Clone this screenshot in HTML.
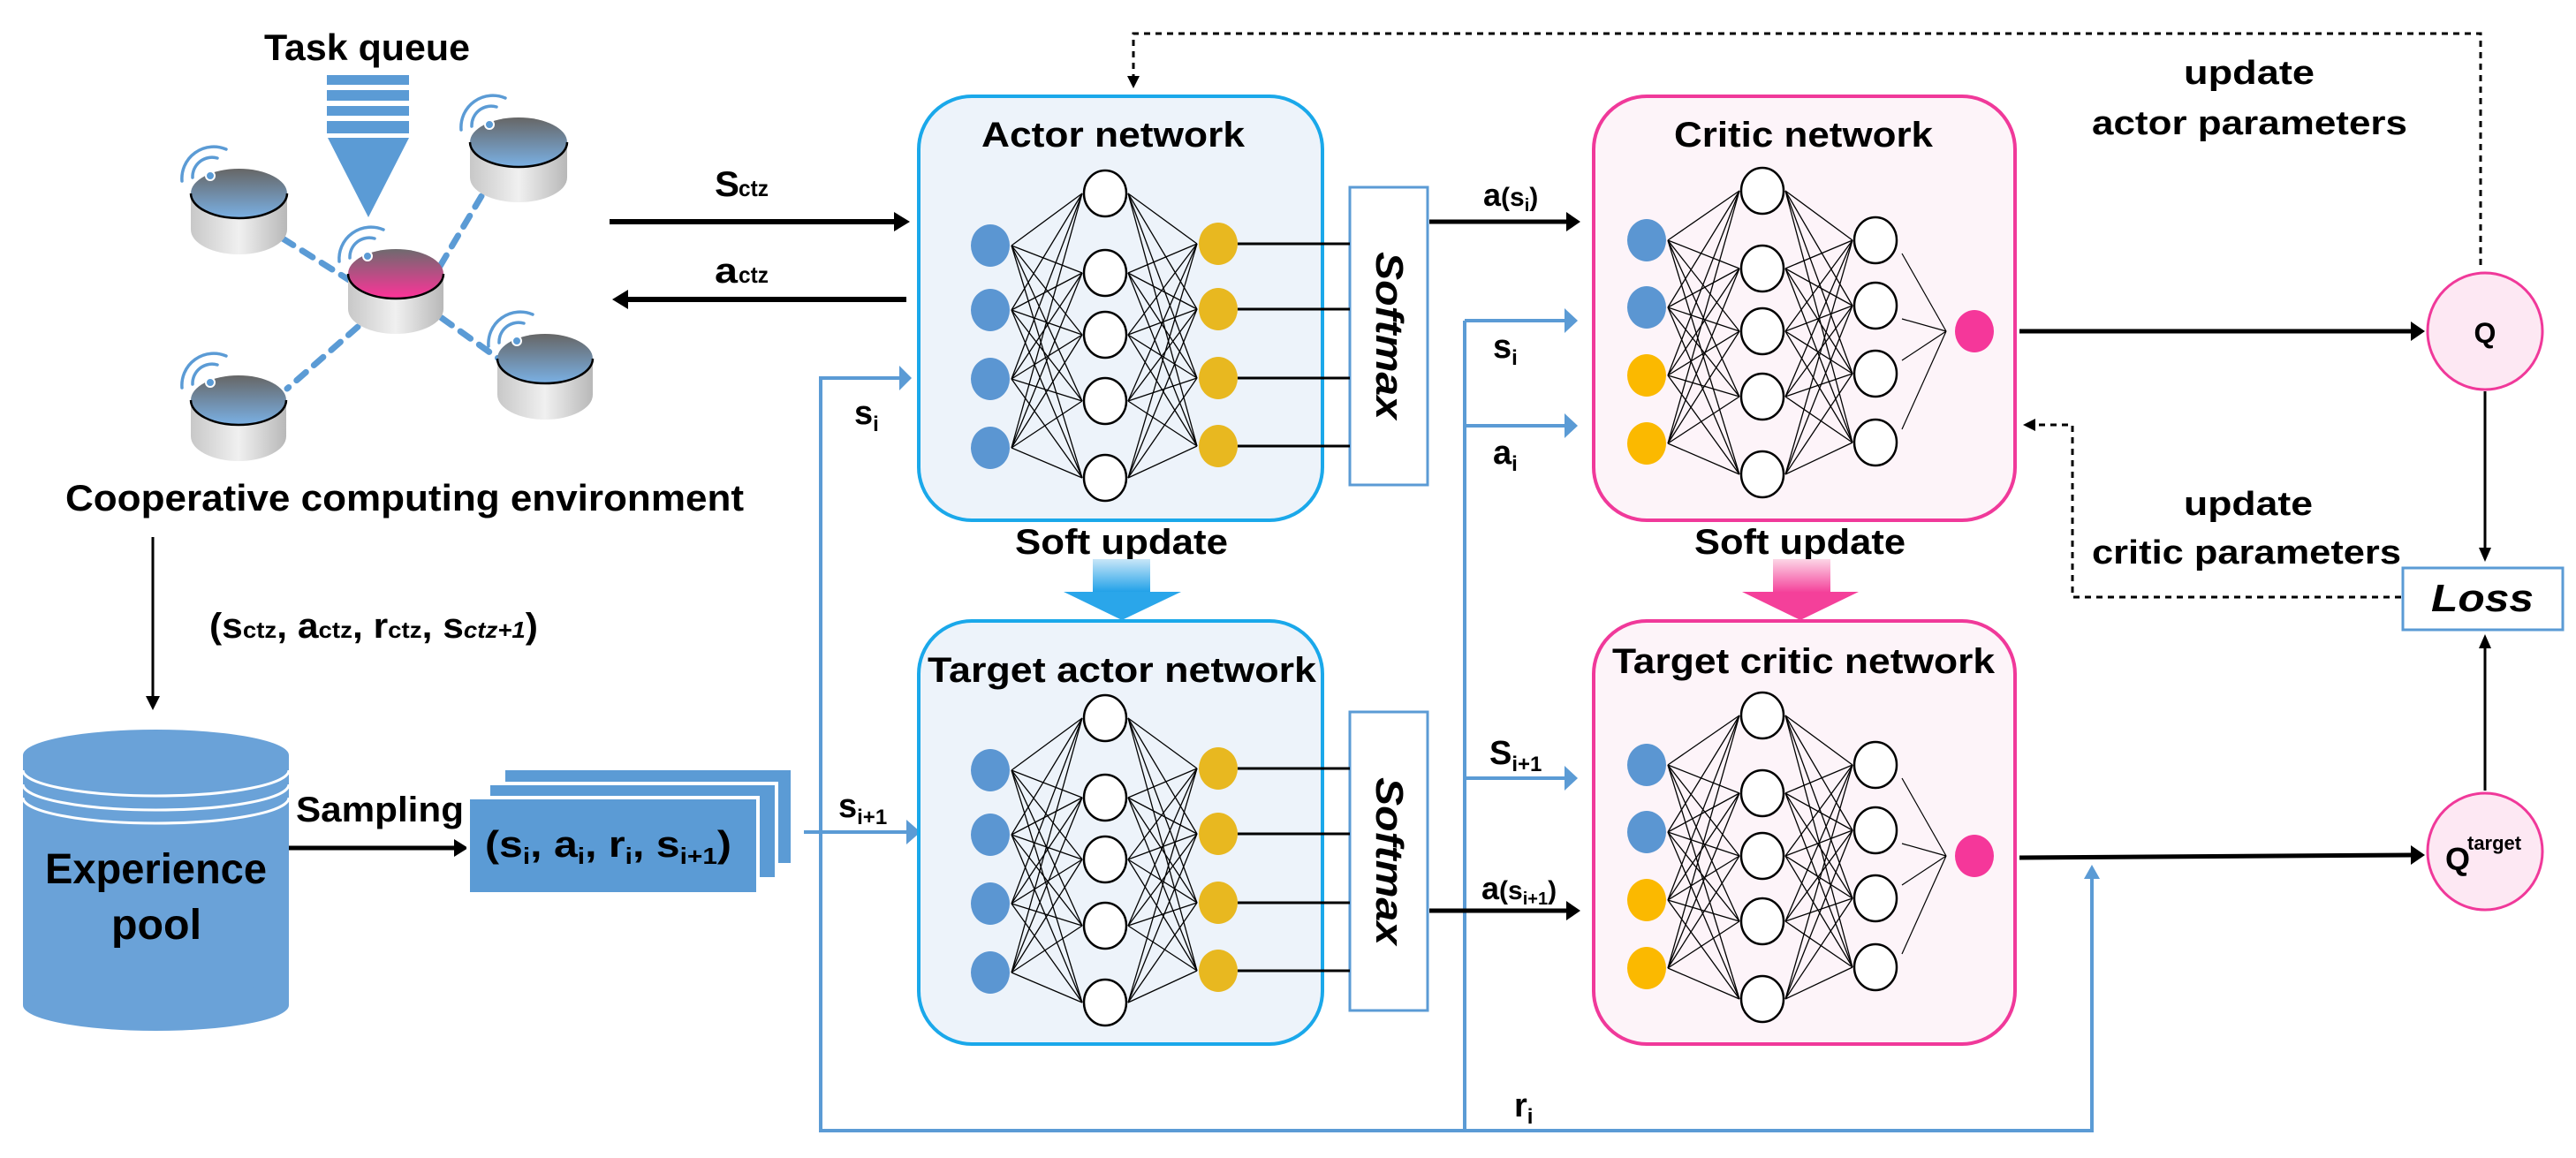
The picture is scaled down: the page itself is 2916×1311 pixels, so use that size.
<!DOCTYPE html>
<html><head><meta charset="utf-8"><style>
html,body{margin:0;padding:0;background:#fff;}
svg{display:block;}
text{font-family:"Liberation Sans",sans-serif;font-weight:bold;fill:#000;}
</style></head><body>
<svg id="s" width="2916" height="1311" viewBox="0 0 2916 1311" xmlns="http://www.w3.org/2000/svg">
<defs>
<linearGradient id="body" x1="0" x2="1" y1="0" y2="0"><stop offset="0" stop-color="#c8c8c8"/><stop offset="0.5" stop-color="#f0f0f0"/><stop offset="1" stop-color="#b8b8b8"/></linearGradient>
<linearGradient id="topb" x1="0" x2="0" y1="0" y2="1"><stop offset="0" stop-color="#666"/><stop offset="1" stop-color="#7ab0e4"/></linearGradient>
<linearGradient id="topp" x1="0" x2="0" y1="0" y2="1"><stop offset="0" stop-color="#6e6a6e"/><stop offset="1" stop-color="#ff3399"/></linearGradient>
<linearGradient id="sb" x1="0" x2="0" y1="0" y2="1"><stop offset="0" stop-color="#c8e6f8"/><stop offset="1" stop-color="#1ea0e8"/></linearGradient>
<linearGradient id="sp" x1="0" x2="0" y1="0" y2="1"><stop offset="0" stop-color="#fcd6e6"/><stop offset="1" stop-color="#f4409a"/></linearGradient>
</defs>

<!-- Task queue -->
<text x="299" y="68" font-size="42" textLength="233" lengthAdjust="spacingAndGlyphs">Task queue</text>
<rect x="370" y="85" width="93" height="11" fill="#5b9bd5"/>
<rect x="370" y="102" width="93" height="12" fill="#5b9bd5"/>
<rect x="370" y="120" width="93" height="11" fill="#5b9bd5"/>
<rect x="370" y="137" width="93" height="14" fill="#5b9bd5"/>
<polygon points="371,156 463,156 417,246" fill="#5b9bd5"/>

<!-- dashed links -->
<g stroke="#5b9bd5" stroke-width="7" stroke-dasharray="14,12" stroke-linecap="round" fill="none">
<line x1="320" y1="270" x2="400" y2="320"/>
<line x1="545" y1="222" x2="490" y2="315"/>
<line x1="500" y1="360" x2="570" y2="410"/>
<line x1="405" y1="370" x2="325" y2="440"/>
</g>
<g id="cyls"></g>

<text x="74" y="578" font-size="42" textLength="768" lengthAdjust="spacingAndGlyphs">Cooperative computing environment</text>

<!-- s_ctz / a_ctz arrows -->
<line x1="690" y1="251" x2="1015" y2="251" stroke="#000" stroke-width="6"/>
<polygon points="1030,251 1012,240 1012,262" fill="#000"/>
<text x="809" y="222" font-size="40" textLength="28" lengthAdjust="spacingAndGlyphs">S</text>
<text x="836" y="222" font-size="26" textLength="34" lengthAdjust="spacingAndGlyphs">ctz</text>
<line x1="1026" y1="339" x2="708" y2="339" stroke="#000" stroke-width="6"/>
<polygon points="693,339 711,328 711,350" fill="#000"/>
<text x="809" y="320" font-size="40" textLength="26" lengthAdjust="spacingAndGlyphs">a</text>
<text x="836" y="320" font-size="26" textLength="34" lengthAdjust="spacingAndGlyphs">ctz</text>

<!-- down arrow to experience pool -->
<line x1="173" y1="608" x2="173" y2="790" stroke="#000" stroke-width="3"/>
<polygon points="173,804 165,788 181,788" fill="#000"/>
<text x="237" y="722" font-size="40" textLength="372" lengthAdjust="spacingAndGlyphs">(s<tspan font-size="26">ctz</tspan>, a<tspan font-size="26">ctz</tspan>, r<tspan font-size="26">ctz</tspan>, s<tspan font-size="26" font-style="italic">ctz+1</tspan>)</text>

<!-- experience pool -->
<rect x="26" y="855" width="301" height="283" fill="#6aa2d8"/>
<ellipse cx="176.5" cy="1138" rx="150.5" ry="29" fill="#6aa2d8"/>
<ellipse cx="176.5" cy="855" rx="150.5" ry="29" fill="#6aa2d8"/>
<path d="M26,872 A150.5,29 0 0 0 327,872" stroke="#fff" stroke-width="3" fill="none"/>
<path d="M26,888 A150.5,29 0 0 0 327,888" stroke="#fff" stroke-width="3" fill="none"/>
<path d="M26,903 A150.5,29 0 0 0 327,903" stroke="#fff" stroke-width="3" fill="none"/>
<text x="51" y="1000" font-size="48" textLength="251" lengthAdjust="spacingAndGlyphs">Experience</text>
<text x="126" y="1063" font-size="48" textLength="102" lengthAdjust="spacingAndGlyphs">pool</text>

<!-- sampling -->
<text x="335" y="930" font-size="40" textLength="190" lengthAdjust="spacingAndGlyphs">Sampling</text>
<line x1="327" y1="960" x2="516" y2="960" stroke="#000" stroke-width="5"/>
<polygon points="530,960 514,950 514,970" fill="#000"/>
<rect x="572" y="872" width="323" height="105" fill="#5b9bd5"/>
<rect x="553" y="887" width="326" height="108" fill="#5b9bd5" stroke="#fff" stroke-width="4"/>
<rect x="530" y="903" width="328" height="109" fill="#5b9bd5" stroke="#fff" stroke-width="4"/>
<text x="549" y="970" font-size="42" textLength="279" lengthAdjust="spacingAndGlyphs">(s<tspan font-size="26" dy="8">i</tspan><tspan dy="-8">, a</tspan><tspan font-size="26" dy="8">i</tspan><tspan dy="-8">, r</tspan><tspan font-size="26" dy="8">i</tspan><tspan dy="-8">, s</tspan><tspan font-size="26" dy="8">i+1</tspan><tspan dy="-8">)</tspan></text>

<!-- blue lines -->
<g stroke="#5b9bd5" stroke-width="4" fill="none">
<polyline points="1020,428 929,428 929,1280 2368,1280 2368,995"/>
<line x1="910" y1="942" x2="1028" y2="942"/>
<line x1="1658" y1="363" x2="1658" y2="1280"/>
<line x1="1658" y1="363" x2="1772" y2="363"/>
<line x1="1658" y1="482" x2="1772" y2="482"/>
<line x1="1658" y1="881" x2="1772" y2="881"/>
</g>
<g fill="#5b9bd5">
<polygon points="1032,428 1018,414 1018,442"/>
<polygon points="1042,942 1026,928 1026,956"/>
<polygon points="1786,363 1771,349 1771,377"/>
<polygon points="1786,482 1771,468 1771,496"/>
<polygon points="1786,881 1771,867 1771,895"/>
<polygon points="2368,979 2359,995 2377,995"/>
</g>
<text x="967" y="480" font-size="38">s<tspan font-size="24" dy="8">i</tspan></text>
<text x="949" y="925" font-size="38">s<tspan font-size="24" dy="8">i+1</tspan></text>
<text x="1690" y="405" font-size="38">s<tspan font-size="24" dy="8">i</tspan></text>
<text x="1690" y="525" font-size="38">a<tspan font-size="24" dy="8">i</tspan></text>
<text x="1686" y="865" font-size="38">S<tspan font-size="24" dy="8">i+1</tspan></text>
<text x="1714" y="1264" font-size="38">r<tspan font-size="24" dy="8">i</tspan></text>

<!-- boxes -->
<rect x="1040" y="109" width="457" height="480" rx="60" fill="#edf3fa" stroke="#1aa8ea" stroke-width="4"/>
<rect x="1040" y="703" width="457" height="479" rx="60" fill="#edf3fa" stroke="#1aa8ea" stroke-width="4"/>
<rect x="1804" y="109" width="477" height="480" rx="60" fill="#fdf4f9" stroke="#f0399a" stroke-width="4"/>
<rect x="1804" y="703" width="477" height="479" rx="60" fill="#fdf4f9" stroke="#f0399a" stroke-width="4"/>
<text x="1111" y="166" font-size="40" textLength="298" lengthAdjust="spacingAndGlyphs">Actor network</text>
<text x="1050" y="772" font-size="40" textLength="440" lengthAdjust="spacingAndGlyphs">Target actor network</text>
<text x="1895" y="166" font-size="40" textLength="293" lengthAdjust="spacingAndGlyphs">Critic network</text>
<text x="1825" y="762" font-size="40" textLength="433" lengthAdjust="spacingAndGlyphs">Target critic network</text>
<text x="1149" y="627" font-size="40" textLength="241" lengthAdjust="spacingAndGlyphs">Soft update</text>
<text x="1918" y="627" font-size="40" textLength="239" lengthAdjust="spacingAndGlyphs">Soft update</text>
<!-- soft update arrows -->
<rect x="1237" y="633" width="65" height="38" fill="url(#sb)"/>
<polygon points="1204,670 1337,670 1270,702" fill="#2aa6ea"/>
<rect x="2007" y="633" width="65" height="38" fill="url(#sp)"/>
<polygon points="1972,670 2104,670 2038,702" fill="#f4409a"/>

<!-- softmax -->
<rect x="1528" y="212" width="88" height="337" fill="#fff" stroke="#5b9bd5" stroke-width="3"/>
<rect x="1528" y="806" width="88" height="338" fill="#fff" stroke="#5b9bd5" stroke-width="3"/>
<text transform="translate(1558,380) rotate(90)" x="0" y="0" font-size="44" font-style="italic" text-anchor="middle" textLength="190" lengthAdjust="spacingAndGlyphs">Softmax</text>
<text transform="translate(1558,975) rotate(90)" x="0" y="0" font-size="44" font-style="italic" text-anchor="middle" textLength="190" lengthAdjust="spacingAndGlyphs">Softmax</text>

<g id="nets"></g>

<!-- a(s_i) arrows -->
<line x1="1618" y1="251" x2="1774" y2="251" stroke="#000" stroke-width="5"/>
<polygon points="1789,251 1773,240 1773,262" fill="#000"/>
<text x="1679" y="233" font-size="36">a<tspan font-size="30">(s</tspan><tspan font-size="20" dy="6">i</tspan><tspan font-size="30" dy="-6">)</tspan></text>
<line x1="1618" y1="1031" x2="1774" y2="1031" stroke="#000" stroke-width="5"/>
<polygon points="1789,1031 1773,1020 1773,1042" fill="#000"/>
<text x="1677" y="1018" font-size="36">a<tspan font-size="30">(s</tspan><tspan font-size="20" dy="6">i+1</tspan><tspan font-size="30" dy="-6">)</tspan></text>

<!-- critic -> Q -->
<line x1="2286" y1="375" x2="2730" y2="375" stroke="#000" stroke-width="5"/>
<polygon points="2745,375 2729,364 2729,386" fill="#000"/>
<line x1="2286" y1="971" x2="2730" y2="968" stroke="#000" stroke-width="5"/>
<polygon points="2745,968 2729,957 2729,979" fill="#000"/>
<ellipse cx="2813" cy="375" rx="65" ry="66" fill="#fde8f3" stroke="#f0399a" stroke-width="3"/>
<ellipse cx="2813" cy="964" rx="65" ry="66" fill="#fde8f3" stroke="#f0399a" stroke-width="3"/>
<text x="2813" y="388" font-size="32" text-anchor="middle">Q</text>
<text x="2768" y="985" font-size="36">Q</text><text x="2793" y="962" font-size="22" font-weight="normal">target</text>
<line x1="2813" y1="443" x2="2813" y2="622" stroke="#000" stroke-width="3"/>
<polygon points="2813,636 2806,620 2820,620" fill="#000"/>
<line x1="2813" y1="895" x2="2813" y2="732" stroke="#000" stroke-width="3"/>
<polygon points="2813,718 2806,734 2820,734" fill="#000"/>
<rect x="2720" y="643" width="181" height="70" fill="#fff" stroke="#5b9bd5" stroke-width="3"/>
<text x="2810" y="692" font-size="44" font-style="italic" font-weight="normal" text-anchor="middle" textLength="116" lengthAdjust="spacingAndGlyphs">Loss</text>

<!-- dashed update lines -->
<g stroke="#000" stroke-width="3" fill="none" stroke-dasharray="7,6">
<polyline points="2808,300 2808,38 1283,38 1283,88"/>
<polyline points="2718,676 2346,676 2346,481 2302,481"/>
</g>
<polygon points="1283,100 1276,86 1290,86" fill="#000"/>
<polygon points="2290,481 2304,474 2304,488" fill="#000"/>
<text x="2472" y="95" font-size="38" textLength="148" lengthAdjust="spacingAndGlyphs">update</text>
<text x="2368" y="152" font-size="38" textLength="357" lengthAdjust="spacingAndGlyphs">actor parameters</text>
<text x="2472" y="583" font-size="38" textLength="146" lengthAdjust="spacingAndGlyphs">update</text>
<text x="2368" y="638" font-size="38" textLength="350" lengthAdjust="spacingAndGlyphs">critic parameters</text>
</svg>
<script>
(function(){
var NS="http://www.w3.org/2000/svg";
function el(p,t,a){var e=document.createElementNS(NS,t);for(var k in a)e.setAttribute(k,a[k]);p.appendChild(e);return e;}
var nets=document.getElementById("nets");
function layer(x,ys,r,fill,stroke){return ys.map(function(y){return {x:x,y:y,r:r,fill:fill,stroke:stroke};});}
function draw(layers){
  for(var i=0;i<layers.length-1;i++){
    var L=layers[i],R=layers[i+1];
    L.forEach(function(a){R.forEach(function(b){
      el(nets,"line",{x1:a.x+a.r+2,y1:a.y,x2:b.x-b.r-2,y2:b.y,stroke:"#000","stroke-width":1.3});
    });});
  }
  layers.forEach(function(L){L.forEach(function(n){
    var o={cx:n.x,cy:n.y,rx:n.r,ry:n.r+2,fill:n.fill};
    if(n.stroke){o.stroke=n.stroke;o["stroke-width"]=2.5;}
    el(nets,"ellipse",o);
  });});
}
var B="#5b96d2",Y="#e8b820",O="#fbb900",P="#f5379a";
[0,594].forEach(function(d){
  var ins=layer(1121,[278,351,429,507].map(function(v){return v+d;}),22,B);
  var hid=layer(1251,[219,309,379,454,541].map(function(v){return v+d;}),24,"#fff","#000");
  var outs=layer(1379,[276,350,428,505].map(function(v){return v+d;}),22,Y);
  draw([ins,hid,outs]);
  outs.forEach(function(n){el(nets,"line",{x1:n.x+n.r,y1:n.y,x2:1528,y2:n.y,stroke:"#000","stroke-width":3});});
  var ci=[272,348,425,502].map(function(v,i){return {x:1864,y:v+d,r:22,fill:i<2?B:O};});
  var h1=layer(1995,[216,304,375,449,537].map(function(v){return v+d;}),24,"#fff","#000");
  var h2=layer(2123,[272,346,423,501].map(function(v){return v+d;}),24,"#fff","#000");
  var out=[{x:2235,y:375+d,r:22,fill:P}];
  draw([ci,h1,h2]);
  h2.forEach(function(a){el(nets,"line",{x1:a.x+a.r+6,y1:a.y+(a.y<out[0].y?16:-16)*0+ (a.y<out[0].y?15:-15),x2:out[0].x-out[0].r-10,y2:out[0].y,stroke:"#000","stroke-width":1.2});});
  draw([out]);
});
// cylinders
var cy=document.getElementById("cyls");
function cyl(x,top,w,h,grad){
  var rx=w/2,ry=28,cx=x+rx;
  el(cy,"path",{d:"M"+x+","+(top+ry)+" L"+x+","+(top+h-ry)+" A"+rx+","+ry+" 0 0 0 "+(x+w)+","+(top+h-ry)+" L"+(x+w)+","+(top+ry)+" Z",fill:"url(#body)"});
  el(cy,"ellipse",{cx:cx,cy:top+ry,rx:rx,ry:ry,fill:"url(#"+grad+")"});
  el(cy,"path",{d:"M"+x+","+(top+ry)+" A"+rx+","+ry+" 0 0 0 "+(x+w)+","+(top+ry),stroke:"#000","stroke-width":2.5,fill:"none"});
  // wifi
  var wx=x+22,wy=top+8;
  el(cy,"circle",{cx:wx,cy:wy,r:5,fill:"#5b9bd5",stroke:"#fff","stroke-width":2});
  el(cy,"path",{d:"M"+(wx-20)+","+(wy+2)+" A22,22 0 0 1 "+(wx+8)+","+(wy-20),stroke:"#5b9bd5","stroke-width":3.5,fill:"none","stroke-linecap":"round"});
  el(cy,"path",{d:"M"+(wx-32)+","+(wy+6)+" A36,36 0 0 1 "+(wx+18)+","+(wy-30),stroke:"#5b9bd5","stroke-width":3.5,fill:"none","stroke-linecap":"round"});
}
cyl(216,191,109,97,"topb");
cyl(532,133,110,96,"topb");
cyl(394,282,108,96,"topp");
cyl(563,378,108,97,"topb");
cyl(216,425,108,97,"topb");
})();
</script>
</body></html>
